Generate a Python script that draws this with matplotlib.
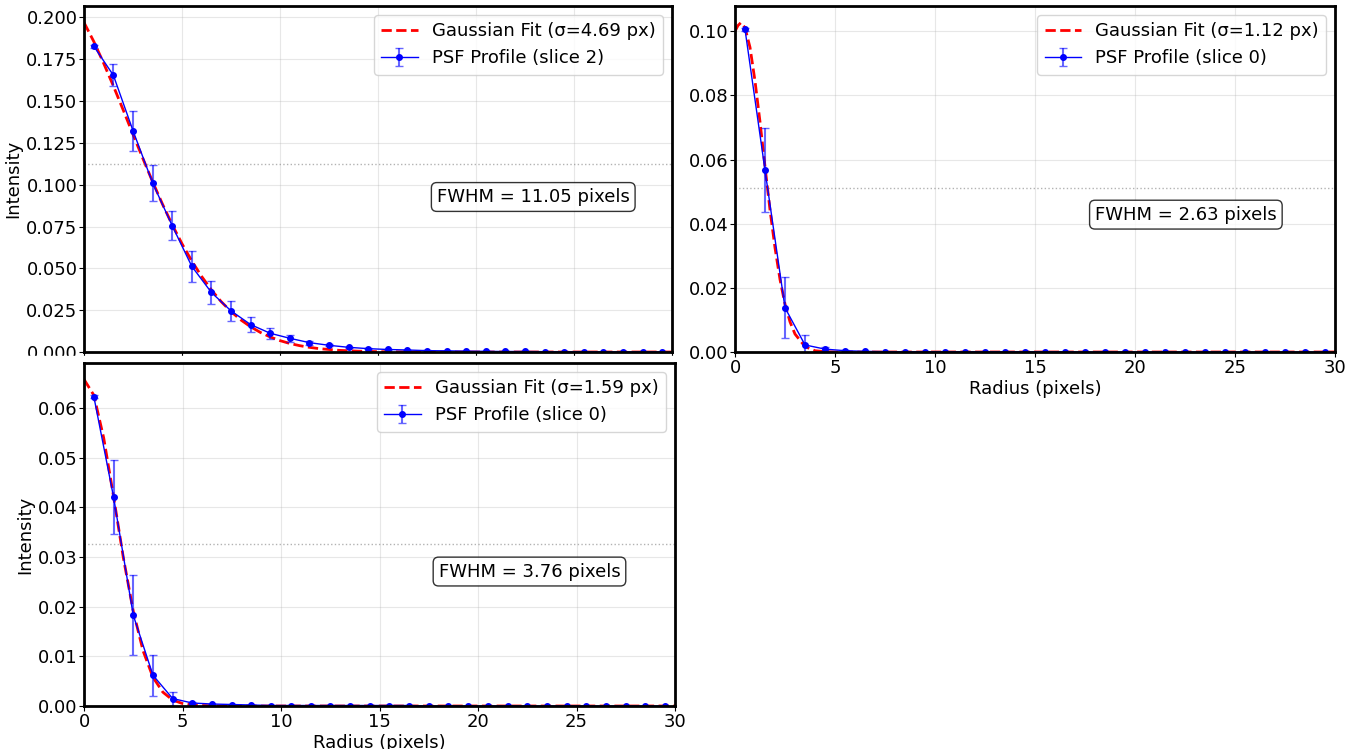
#!/usr/bin/env python3
"""PSF radial profiles with Gaussian fits, three panels."""

import matplotlib
matplotlib.use("Agg")
import matplotlib.pyplot as plt
from matplotlib.patches import Rectangle

# radial bins (pixel centres)
radius = [0.5 + i for i in range(30)]

# --- panel A: slice 2, wide PSF ---
prof_a = [0.1828, 0.1654, 0.1323, 0.1011, 0.0755, 0.0512, 0.0356, 0.0246,
          0.0164, 0.0112, 0.0082, 0.0056, 0.0040, 0.0028, 0.0020, 0.0015,
          0.0012, 0.0008, 0.0007, 0.0005, 0.0004, 0.0003, 0.0003, 0.0002,
          0.0002, 0.0002, 0.0001, 0.0001, 0.0001, 0.0001]
err_a = [0.0008, 0.0066, 0.0120, 0.0106, 0.0085, 0.0093, 0.0071, 0.0058,
         0.0045, 0.0034, 0.0020, 0.0012, 0.0007, 0.0004, 0.0003, 0.0002,
         0.0001, 0.0001, 0.0001, 0.0001, 0, 0, 0, 0, 0, 0, 0, 0, 0, 0]
fit_r_a = [0, 0.5, 1, 1.5, 2, 2.5, 3, 3.5, 4, 4.5, 5, 5.5, 6, 6.5, 7, 7.5,
           8, 8.5, 9, 9.5, 10, 10.5, 11, 11.5, 12, 13, 14, 15, 16, 18, 30]
fit_a = [0.1970, 0.1856, 0.1727, 0.1590, 0.1447, 0.1301, 0.1158, 0.1018,
         0.0885, 0.0761, 0.0647, 0.0544, 0.0452, 0.0371, 0.0301, 0.0242,
         0.0192, 0.0151, 0.0117, 0.0090, 0.0068, 0.0051, 0.0038, 0.0028,
         0.0020, 0.0010, 0.0005, 0.0002, 0.0001, 0.0, 0.0]
half_a = 0.1123
sigma_a, fwhm_a, slice_a = 4.69, 11.05, 2

# --- panel B: slice 0, narrow PSF ---
prof_b = [0.1006, 0.0567, 0.0138, 0.0022, 0.0009, 0.0004, 0.0002, 0.0001,
          0.0001, 0.0001, 0.0001, 0.0001, 0.0001, 0.0001, 0.0001, 0.0001,
          0.0001, 0.0, 0.0, 0.0, 0.0, 0.0, 0.0, 0.0, 0.0, 0.0, 0.0, 0.0,
          0.0, 0.0]
err_b = [0.0004, 0.0131, 0.0095, 0.0030, 0.0006, 0.0002, 0.0001, 0, 0, 0,
         0, 0, 0, 0, 0, 0, 0, 0, 0, 0, 0, 0, 0, 0, 0, 0, 0, 0, 0, 0]
fit_r_b = [0, 0.15, 0.3, 0.5, 0.75, 1, 1.25, 1.5, 1.75, 2, 2.25, 2.5, 2.75,
           3, 3.5, 4, 4.5, 5, 30]
fit_b = [0.1000, 0.1018, 0.1027, 0.1011, 0.0950, 0.0845, 0.0718, 0.0578,
         0.0443, 0.0325, 0.0226, 0.0149, 0.0094, 0.0056, 0.0017, 0.0004,
         0.0001, 0.0, 0.0]
half_b = 0.0512
sigma_b, fwhm_b, slice_b = 1.12, 2.63, 0

# --- panel C: slice 0, medium PSF ---
prof_c = [0.0623, 0.0421, 0.0183, 0.0062, 0.0015, 0.0006, 0.0004, 0.0003,
          0.0002, 0.0001, 0.0001, 0.0001, 0.0001, 0.0001, 0.0001, 0.0001,
          0.0001, 0.0, 0.0, 0.0, 0.0, 0.0, 0.0, 0.0, 0.0, 0.0, 0.0, 0.0,
          0.0, 0.0]
err_c = [0.0003, 0.0074, 0.0080, 0.0041, 0.0014, 0.0002, 0.0001, 0, 0, 0,
         0, 0, 0, 0, 0, 0, 0, 0, 0, 0, 0, 0, 0, 0, 0, 0, 0, 0, 0, 0]
fit_r_c = [0, 0.5, 1, 1.5, 2, 2.5, 3, 3.5, 4, 4.5, 5, 5.5, 6, 7, 30]
fit_c = [0.0658, 0.0626, 0.0540, 0.0422, 0.0298, 0.0191, 0.0111, 0.0058,
         0.0028, 0.0012, 0.0005, 0.0002, 0.0001, 0.0, 0.0]
half_c = 0.0327
sigma_c, fwhm_c, slice_c = 1.59, 3.76, 0

plt.rcParams["font.family"] = ["DejaVu Sans"]
plt.rcParams["font.size"] = 13
plt.rcParams["xtick.major.pad"] = 1.2
plt.rcParams["ytick.major.pad"] = 1.2
plt.rcParams["axes.labelpad"] = 2.5

W, H = 1369, 749
fig = plt.figure(figsize=(W / 100, H / 100), dpi=100)


def px_axes(left, top, right, bottom):
    """Axes from pixel box (origin top-left)."""
    return fig.add_axes([left / W, 1 - bottom / H,
                         (right - left) / W, (bottom - top) / H])


def panel(ax, prof, err, fit_r, fit, half, sigma, fwhm, sl, text_y):
    ax.plot(fit_r, fit, "r--", lw=2, label=f"Gaussian Fit (σ={sigma:.2f} px)")
    ax.errorbar(radius, prof, yerr=err, fmt="o-", color="blue", ms=4, lw=1,
                ecolor=(0, 0, 1, 0.6), elinewidth=1.5, capsize=3,
                label=f"PSF Profile (slice {sl})")
    ax.axhline(half, color="gray", ls=":", lw=1, alpha=0.6)
    ax.text(0.6, text_y, f"FWHM = {fwhm:.2f} pixels", transform=ax.transAxes,
            ha="left", va="center",
            bbox=dict(boxstyle="round", facecolor="white", edgecolor="black",
                      alpha=0.8))
    ax.set_xlim(0, 30)
    ax.set_ylim(bottom=0)
    ax.grid(True, alpha=0.3)
    ax.legend(loc="upper right")
    for s in ax.spines.values():
        s.set_linewidth(2)


ax_a = px_axes(84, 6, 672, 352)
panel(ax_a, prof_a, err_a, fit_r_a, fit_a, half_a, sigma_a, fwhm_a, slice_a,
      0.448)
ax_a.set_ylabel("Intensity")
ax_a.tick_params(labelbottom=False)

ax_b = px_axes(735, 6, 1335, 352)
panel(ax_b, prof_b, err_b, fit_r_b, fit_b, half_b, sigma_b, fwhm_b, slice_b,
      0.397)
ax_b.set_xlabel("Radius (pixels)")

ax_c = px_axes(84, 363, 675, 706)
panel(ax_c, prof_c, err_c, fit_r_c, fit_c, half_c, sigma_c, fwhm_c, slice_c,
      0.392)
ax_c.set_xlabel("Radius (pixels)")
ax_c.set_ylabel("Intensity")
ax_c.set_zorder(2)

# the lower panel hides the bottom of the upper-left tick labels
fig.add_artist(Rectangle((0, 1 - 362 / H), 680 / W, 6 / H,
                         transform=fig.transFigure, color="white", zorder=1))

fig.savefig("out.png", dpi=100)
